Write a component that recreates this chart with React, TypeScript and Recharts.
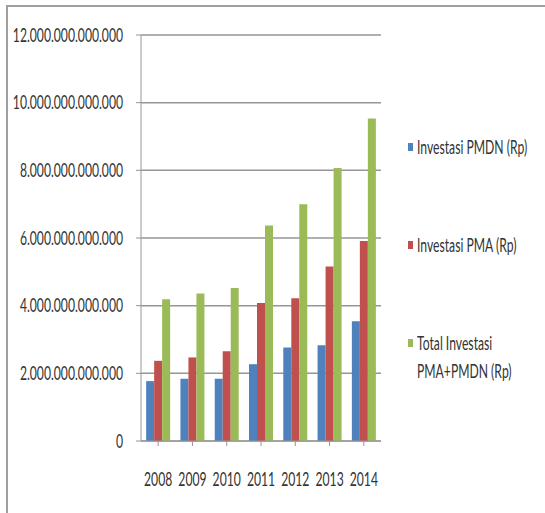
import { BarChart, Bar, XAxis, YAxis, CartesianGrid } from "recharts";

const years = ["2008", "2009", "2010", "2011", "2012", "2013", "2014"];
const pmdn = [1.77e12, 1.84e12, 1.84e12, 2.27e12, 2.76e12, 2.83e12, 3.54e12];
const pma = [2.37e12, 2.47e12, 2.65e12, 4.08e12, 4.22e12, 5.16e12, 5.91e12];
const total = [4.19e12, 4.36e12, 4.52e12, 6.37e12, 7.0e12, 8.07e12, 9.53e12];
const yTicks = [0, 2e12, 4e12, 6e12, 8e12, 10e12, 12e12];

const seriesNames = ["Investasi PMDN (Rp)", "Investasi PMA (Rp)", "Total Investasi\nPMA+PMDN (Rp)"];
const seriesColors = ["#4f81bd", "#c0504d", "#9bbb59"];

const FONT = "Lato, 'Liberation Sans', sans-serif";
const TEXT = "#333";
const GRID = "#969696";
// the source picture is squeezed sideways and stretched up, so the text is too
const FS = 16;
const SX = 0.76;
const SY = 1.2;

// dots as thousand separator, like the Indonesian Excel chart
const fmt = (v: number) => String(Math.round(v)).replace(/\B(?=(\d{3})+(?!\d))/g, ".");

const data = years.map((y, i) => ({ year: y, pmdn: pmdn[i], pma: pma[i], total: total[i] }));
const keys = ["pmdn", "pma", "total"];

// vertical centre of the first line of each legend entry
const legendY = [147, 245, 343];

const YTick = (props: any) => {
  const { x, y, payload } = props;
  return (
    <g transform={`translate(${x},${y})`}>
      <text transform={`scale(${SX},${SY})`} textAnchor="end" dy="0.355em" fill={TEXT} fontSize={FS} fontFamily={FONT}>
        {fmt(payload.value)}
      </text>
    </g>
  );
};

const XTick = (props: any) => {
  const { x, y, payload } = props;
  return (
    <g transform={`translate(${x},${y})`}>
      <text transform={`scale(${SX},${SY})`} textAnchor="middle" dy="0.71em" fill={TEXT} fontSize={FS} fontFamily={FONT}>
        {payload.value}
      </text>
    </g>
  );
};

export default function App() {
  return (
    <div style={{ position: "absolute", left: 0, top: 0, width: 545, height: 513, background: "#fff", fontFamily: FONT }}>
      <div
        style={{
          position: "absolute", left: 6, top: 5, right: 0, bottom: 0,
          borderTop: "2px solid #a0a0a0", borderLeft: "2px solid #a0a0a0",
        }}
      />
      <BarChart
        width={545}
        height={513}
        data={data}
        margin={{ top: 35, right: 164, bottom: 30, left: 0 }}
        barCategoryGap="15%"
        barGap={0}
        style={{ position: "absolute", left: 0, top: 0 }}
      >
        <CartesianGrid vertical={false} stroke={GRID} strokeWidth={1.5} />
        <XAxis
          dataKey="year"
          height={42}
          interval={0}
          tickSize={5}
          tickMargin={26}
          stroke={GRID}
          tick={<XTick />}
        />
        <YAxis
          width={141}
          domain={[0, 12e12]}
          ticks={yTicks}
          tickFormatter={fmt}
          tickSize={5}
          tickMargin={13}
          stroke={GRID}
          tick={<YTick />}
        />
        {keys.map((k, i) => (
          <Bar key={k} dataKey={k} name={seriesNames[i]} fill={seriesColors[i]} isAnimationActive={false} />
        ))}
      </BarChart>
      {seriesNames.map((name, i) => (
        <div key={name}>
          <span
            style={{
              position: "absolute", left: 408, top: legendY[i] - 4, width: 5, height: 8,
              background: seriesColors[i],
            }}
          />
          <div
            style={{
              position: "absolute", left: 417, top: legendY[i] - 11.25, whiteSpace: "pre",
              color: TEXT, fontSize: FS, lineHeight: "22.5px",
              transform: `scale(${SX},${SY})`, transformOrigin: "0 11.25px",
            }}
          >
            {name}
          </div>
        </div>
      ))}
    </div>
  );
}
